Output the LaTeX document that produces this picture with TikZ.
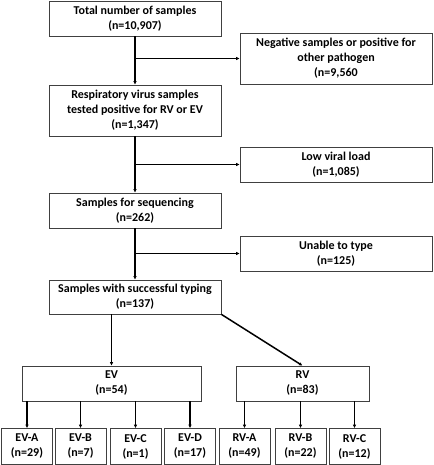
\documentclass[tikz,border=0pt]{standalone}
\usepackage{fontspec}
\setmainfont{Carlito}
\usetikzlibrary{positioning, calc, arrows.meta}

\begin{document}
\begin{tikzpicture}[x=1pt, y=-1pt, >={Latex[length=3.5pt,width=3.5pt]}, line width=1.5pt]
\tikzset{
  box/.style ={draw=black!75, line width=0.7pt, align=center, inner sep=1pt,
               font=\fontsize{12}{15}\selectfont\bfseries},
  mbox/.style={box, minimum width=172pt, minimum height=35pt},
  sbox/.style={box, minimum width=192pt, minimum height=35pt},
  leaf/.style={box, minimum width=51pt, minimum height=36pt}
}
\useasboundingbox (0,0) rectangle (433,465);

% main column
\node[mbox] (total) at (135,18.5) {Total number of samples\\(n=10,907)};
\node[mbox, minimum height=51pt] (resp) at (135,110.5) {Respiratory virus samples\\tested positive for RV or EV\\(n=1,347)};
\node[mbox] (seq) at (135,210.5) {Samples for sequencing\\(n=262)};
\node[mbox, minimum height=34pt] (typed) at (135,297) {Samples with successful typing\\(n=137)};

% excluded
\node[sbox, minimum height=51pt] (neg) at (336,58.5) {Negative samples or positive for\\other pathogen\\(n=9,560};
\node[sbox] (low) at (336,164.5) {Low viral load\\(n=1,085)};
\node[sbox] (untyped) at (336,253.5) {Unable to type\\(n=125)};

\draw[->] (total) -- (resp);
\draw[->] (total.south |- neg.west) -- (neg);
\draw[->] (resp) -- (seq);
\draw[->] (resp.south |- low.west) -- (low);
\draw[->] (seq) -- (typed);
\draw[->] (seq.south |- untyped.west) -- (untyped);

% species
\node[box, minimum width=179pt, minimum height=35pt] (ev) at (111.5,383.5) {EV\\(n=54)};
\node[box, minimum width=133pt, minimum height=35pt] (rv) at (302.5,383.5) {RV\\(n=83)};

\draw[->] (typed.south -| ev.north) -- (ev);
\draw[->] (typed.south east) -- (rv.north);

% types
\node[leaf] (eva) at (27,446.5)  {EV-A\\(n=29)};
\node[leaf] (evb) at (80.5,446.5) {EV-B\\(n=7)};
\node[leaf] (evc) at (135.5,446.5) {EV-C\\(n=1)};
\node[leaf] (evd) at (190,446.5) {EV-D\\(n=17)};
\node[leaf] (rva) at (244.5,446.5) {RV-A\\(n=49)};
\node[leaf] (rvb) at (300.5,446.5) {RV-B\\(n=22)};
\node[leaf] (rvc) at (354.5,446.5) {RV-C\\(n=12)};

\foreach \t in {eva,evb,evc,evd}
  \draw[->] (\t.north |- ev.south) -- (\t.north);
\foreach \t in {rva,rvb,rvc}
  \draw[->] (\t.north |- rv.south) -- (\t.north);

\end{tikzpicture}
\end{document}
